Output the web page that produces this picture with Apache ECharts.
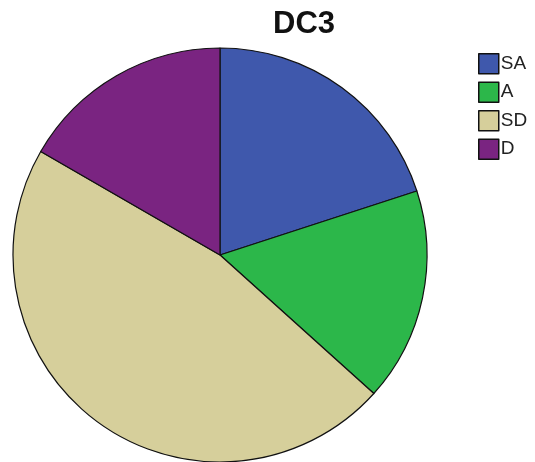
<!DOCTYPE html>
<html>
<head>
<meta charset="utf-8">
<script src="https://cdn.jsdelivr.net/npm/echarts@6/dist/echarts.min.js"></script>
<style>
  html, body { margin: 0; padding: 0; background: #fff; }
  #chart { width: 535px; height: 462px; }
</style>
</head>
<body>
<div id="chart"></div>
<script>
// Response categories and counts for item DC3
const categories = ['SA', 'A', 'SD', 'D'];
const counts = [6, 5, 14, 5];
const colors = ['#3F58AC', '#2CB74A', '#D6CF9B', '#7A2481'];

const chart = echarts.init(document.getElementById('chart'), null, { renderer: 'canvas' });

chart.setOption({
  animation: false,
  backgroundColor: '#ffffff',
  title: {
    text: 'DC3',
    left: 299,
    top: 4,
    textAlign: 'center',
    textStyle: {
      fontFamily: 'Liberation Sans, Arial, sans-serif',
      fontWeight: 'bold',
      fontSize: 31,
      color: '#111'
    }
  },
  legend: {
    orient: 'vertical',
    left: 478,
    top: 53,
    padding: 0,
    itemWidth: 20,
    itemHeight: 20,
    itemGap: 7,
    icon: 'rect',
    data: categories,
    itemStyle: { borderColor: '#111', borderWidth: 1.5 },
    textStyle: {
      fontFamily: 'Liberation Sans, Arial, sans-serif',
      fontSize: 19,
      lineHeight: 20,
      color: '#222',
      padding: [0, 0, 0, -3]
    }
  },
  series: [{
    type: 'pie',
    center: [220, 255],
    radius: 207,
    startAngle: 90,
    clockwise: true,
    label: { show: false },
    labelLine: { show: false },
    emphasis: { disabled: true },
    itemStyle: { borderColor: '#111', borderWidth: 1.2 },
    data: categories.map((c, i) => ({
      name: c,
      value: counts[i],
      itemStyle: { color: colors[i] }
    }))
  }]
});
</script>
</body>
</html>
